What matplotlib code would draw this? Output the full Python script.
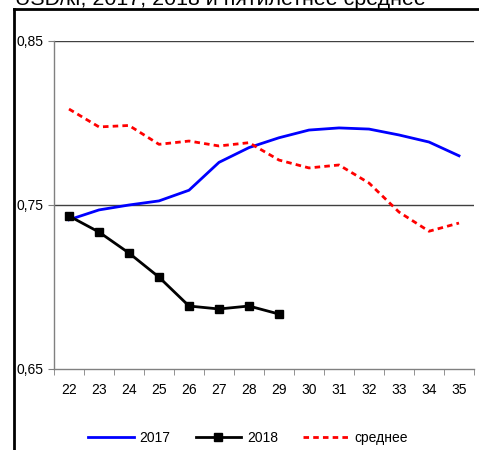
import matplotlib.pyplot as plt
from matplotlib.lines import Line2D
import numpy as np

plt.rcParams['font.family'] = ['Liberation Sans', 'DejaVu Sans']

# weeks on the category axis
weeks = ["22", "23", "24", "25", "26", "27", "28", "29", "30", "31", "32", "33", "34", "35"]
price_2017 = [0.741, 0.747, 0.750, 0.7525, 0.759, 0.776, 0.785, 0.791, 0.7957, 0.797, 0.7963, 0.7927, 0.7884, 0.780]
price_2018 = [0.7433, 0.7335, 0.7207, 0.706, 0.6884, 0.6866, 0.6884, 0.6835]
price_avg = [0.8085, 0.7976, 0.7985, 0.787, 0.789, 0.786, 0.788, 0.7774, 0.7726, 0.7744, 0.7634, 0.7457, 0.734, 0.739]

title = "USD/кг, 2017, 2018 и пятилетнее среднее"

fig = plt.figure(figsize=(4.79, 4.5), dpi=100)
ax = fig.add_axes([54/479, 1-369/450, 420/479, 328/450])

x = np.arange(len(weeks))
ax.plot(x, price_2017, color="#0000ff", lw=2, label="2017")
ax.plot(x[:len(price_2018)], price_2018, color="black", lw=2, marker="s", ms=6, label="2018")
ax.plot(x, price_avg, color="#ff0000", lw=2, ls=(0, (2, 1.5)), label="среднее")

ax.set_xlim(-0.5, len(weeks) - 0.5)
ax.set_ylim(0.65, 0.85)
ax.set_xticks(x)
ax.set_xticklabels(weeks, fontsize=10)
ax.set_xticks(np.arange(-0.5, len(weeks)), minor=True)
ax.tick_params(axis="x", which="major", length=0, pad=10)
ax.tick_params(axis="x", which="minor", length=4, color="#808080", direction="out")
ax.set_yticks([0.65, 0.75, 0.85])
ax.set_yticklabels(["0,65", "0,75", "0,85"], fontsize=10)
ax.tick_params(axis="y", length=4, color="#808080", direction="out")
for v in [0.75, 0.85]:
    ax.axhline(v, color="#404040", lw=1, zorder=0)
for s in ["top", "right"]:
    ax.spines[s].set_visible(False)
for s in ["left", "bottom"]:
    ax.spines[s].set_color("#808080")
    ax.spines[s].set_linewidth(1)

ax.legend(loc="center", bbox_to_anchor=(248/479, 1-438/450), bbox_transform=fig.transFigure,
          ncol=3, frameon=False, fontsize=10, handlelength=3.3, columnspacing=1.8, handletextpad=0.4)

# frame of the picture and the clipped title
fig.add_artist(Line2D([14/479, 14/479], [0, 1-9/450], color="black", lw=2))
fig.add_artist(Line2D([14/479, 1], [1-9/450, 1-9/450], color="black", lw=2))
fig.text(15/479, 1-5/450, title, fontsize=15.4, va="baseline", ha="left")

fig.savefig("out.png", dpi=100)
